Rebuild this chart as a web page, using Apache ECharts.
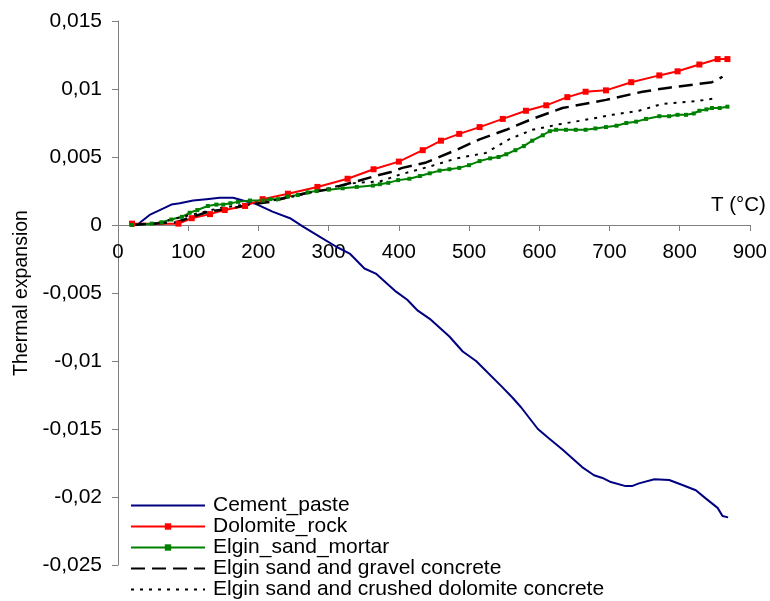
<!DOCTYPE html>
<html>
<head>
<meta charset="utf-8">
<script src="https://cdn.jsdelivr.net/npm/echarts@6/dist/echarts.min.js"></script>
<style>
html,body{margin:0;padding:0;background:#fff;}
#chart{width:770px;height:601px;}
</style>
</head>
<body>
<div id="chart"></div>
<script>
// ---- data ----
var seriesNames = ['Cement_paste', 'Dolomite_rock', 'Elgin_sand_mortar',
  'Elgin sand and gravel concrete', 'Elgin sand and crushed dolomite concrete'];

var cementT = [20, 27, 45, 64, 76, 88, 107, 126, 145, 164, 178, 197, 220, 245, 263, 287, 311, 330, 351, 368, 396, 412, 427, 444, 472, 491, 510, 547, 562, 574, 598, 614, 633, 661, 678, 690, 702, 723, 732, 742, 764, 785, 803, 823, 837, 854, 861, 869];
var cementV = [0, 0.0000, 0.00074, 0.0012, 0.0015, 0.0016, 0.0018, 0.0019, 0.0020, 0.0020, 0.0018, 0.00154, 0.00098, 0.0005, -0.0001, -0.00086, -0.0016, -0.0021, -0.0032, -0.0036, -0.0049, -0.0055, -0.0063, -0.0069, -0.0082, -0.0093, -0.0100, -0.0119, -0.0127, -0.0134, -0.0150, -0.0157, -0.0165, -0.0178, -0.0184, -0.0186, -0.0189, -0.0192, -0.0192, -0.0190, -0.0187, -0.01875, -0.0191, -0.0195, -0.0201, -0.0208, -0.0214, -0.0215];

var dolomiteT = [20, 86, 105, 131, 152, 181, 206, 242, 284, 327, 364, 400, 434, 460, 486, 515, 548, 581, 610, 640, 666, 695, 731, 771, 797, 828, 854, 868];
var dolomiteV = [0.0001, 0.0001, 0.0005, 0.0008, 0.0011, 0.0014, 0.0019, 0.0023, 0.0028, 0.0034, 0.0041, 0.00466, 0.0055, 0.0062, 0.0067, 0.0072, 0.0078, 0.0084, 0.0088, 0.0094, 0.0098, 0.0099, 0.0105, 0.0110, 0.0113, 0.0118, 0.0122, 0.0122];

var mortarT = [20, 48, 62, 76, 91, 102, 113, 128, 140, 150, 160, 171, 188, 206, 217, 228, 242, 256, 270, 283, 300, 320, 340, 363, 373, 385, 399, 415, 430, 444, 458, 472, 486, 500, 515, 530, 542, 553, 566, 578, 590, 605, 615, 624, 638, 652, 666, 680, 695, 710, 724, 738, 752, 771, 785, 797, 809, 820, 828, 838, 846, 857, 868];
var mortarV = [0.0000, 0.0001, 0.0002, 0.0004, 0.0006, 0.0009, 0.0011, 0.0014, 0.0015, 0.0015, 0.0016, 0.0017, 0.0018, 0.0018, 0.0019, 0.0019, 0.0021, 0.0022, 0.0024, 0.0025, 0.0026, 0.0027, 0.0028, 0.0029, 0.0030, 0.0031, 0.0033, 0.0034, 0.0036, 0.0038, 0.0040, 0.0041, 0.0042, 0.0044, 0.0047, 0.0049, 0.0050, 0.0052, 0.0055, 0.0058, 0.0062, 0.0066, 0.0069, 0.0070, 0.0070, 0.0070, 0.0070, 0.0071, 0.0072, 0.0073, 0.0075, 0.0076, 0.0078, 0.0080, 0.0080, 0.0081, 0.0081, 0.0082, 0.0084, 0.0085, 0.0086, 0.0086, 0.0087];

var gravelT = [20, 50, 83, 106, 130, 159, 188, 216, 254, 297, 339, 373, 389, 405, 439, 481, 515, 553, 590, 633, 695, 747, 785, 846, 861];
var gravelV = [0.0000, 0.0001, 0.0002, 0.0006, 0.0010, 0.0012, 0.0015, 0.0017, 0.0022, 0.0026, 0.0032, 0.0037, 0.0039, 0.0042, 0.0046, 0.0055, 0.0063, 0.0070, 0.0078, 0.0086, 0.0092, 0.0098, 0.0101, 0.0105, 0.0109];

var crushedT = [20, 60, 100, 150, 200, 250, 300, 316, 339, 373, 401, 444, 482, 524, 557, 590, 628, 662, 704, 742, 775, 823, 849];
var crushedV = [0.0000, 0.0002, 0.0007, 0.0013, 0.0016, 0.0021, 0.0027, 0.0029, 0.0031, 0.0032, 0.0037, 0.0043, 0.0049, 0.0053, 0.0063, 0.0070, 0.0074, 0.0077, 0.0081, 0.0084, 0.0089, 0.0091, 0.0093];

var xMin = 0, xMax = 900, xStep = 100;
var yMin = -0.025, yMax = 0.015, yStep = 0.005;
var xName = 'T (°C)';
var yName = 'Thermal expansion';

function pairs(t, v) { return t.map(function (x, i) { return [x, v[i]]; }); }
function fmtComma(v) {
  var s = String(parseFloat(Number(v).toFixed(4)));
  return s.replace('.', ',');
}

var FONT = '"Liberation Sans", Arial, sans-serif';
var GRID = {left: 118, right: 19, top: 21, bottom: 36};
var plotH = 601 - GRID.top - GRID.bottom;
// x axis drawn where y = 0 (value -> pixel through the y range)
var zeroOffset = -plotH * (0 - yMin) / (yMax - yMin);

var chart = echarts.init(document.getElementById('chart'), null, {renderer: 'canvas'});
chart.setOption({
  animation: false,
  backgroundColor: '#ffffff',
  textStyle: {fontFamily: FONT, color: '#000'},
  grid: {left: GRID.left, right: GRID.right, top: GRID.top, bottom: GRID.bottom, containLabel: false},
  xAxis: {
    type: 'value', min: xMin, max: xMax, interval: xStep,
    position: 'bottom', offset: zeroOffset,
    name: xName, nameLocation: 'end', nameGap: 16,
    nameTextStyle: {fontFamily: FONT, fontSize: 20.5, color: '#000', align: 'right', verticalAlign: 'bottom', padding: [0, 0, 9, 0]},
    axisLine: {onZero: false, lineStyle: {color: '#808080', width: 1}},
    axisTick: {show: true, inside: false, length: 6, lineStyle: {color: '#808080'}},
    axisLabel: {fontFamily: FONT, fontSize: 20.5, color: '#000', margin: 17},
    splitLine: {show: false}
  },
  yAxis: {
    type: 'value', min: yMin, max: yMax, interval: yStep,
    name: yName, nameLocation: 'middle', nameGap: 86,
    nameTextStyle: {fontFamily: FONT, fontSize: 19.5, color: '#000'},
    axisLine: {show: true, onZero: false, lineStyle: {color: '#808080', width: 1}},
    axisTick: {show: true, inside: false, length: 6, lineStyle: {color: '#808080'}},
    axisLabel: {fontFamily: FONT, fontSize: 21, color: '#000', margin: 16, formatter: fmtComma},
    splitLine: {show: false}
  },
  legend: {
    orient: 'vertical', left: 130, top: 495, padding: 0,
    itemWidth: 74, itemHeight: 8, itemGap: 0,
    textStyle: {fontFamily: FONT, fontSize: 21, color: '#000', lineHeight: 20.8, padding: [0, 0, 0, 3]},
    data: seriesNames
  },
  series: [
    {name: seriesNames[0], type: 'line', data: pairs(cementT, cementV), showSymbol: false, symbol: 'none',
     lineStyle: {color: '#000080', width: 2}, itemStyle: {color: '#000080', opacity: 0}},
    {name: seriesNames[1], type: 'line', data: pairs(dolomiteT, dolomiteV), symbol: 'rect', symbolSize: 6, showSymbol: true,
     lineStyle: {color: '#ff0000', width: 2}, itemStyle: {color: '#ff0000'}},
    {name: seriesNames[2], type: 'line', data: pairs(mortarT, mortarV), symbol: 'rect', symbolSize: 4, showSymbol: true,
     lineStyle: {color: '#008000', width: 2}, itemStyle: {color: '#008000'}},
    {name: seriesNames[3], type: 'line', data: pairs(gravelT, gravelV), showSymbol: false, symbol: 'none',
     lineStyle: {color: '#000000', width: 2.5, type: [14, 7]}, itemStyle: {color: '#000000', opacity: 0}},
    {name: seriesNames[4], type: 'line', data: pairs(crushedT, crushedV), showSymbol: false, symbol: 'none',
     lineStyle: {color: '#000000', width: 2, type: [3, 6]}, itemStyle: {color: '#000000', opacity: 0}}
  ]
});
</script>
</body>
</html>
